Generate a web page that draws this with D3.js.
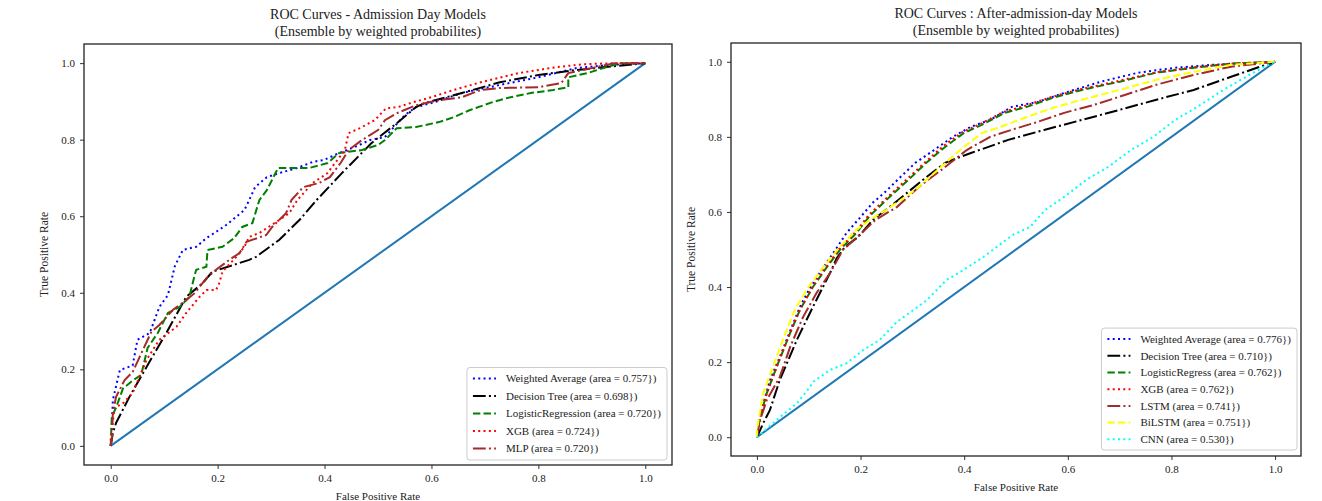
<!DOCTYPE html>
<html>
<head>
<meta charset="utf-8">
<script src="https://cdn.jsdelivr.net/npm/d3@7"></script>
<style>
  body { margin: 0; background: #fff; }
  svg { font-family: "Liberation Serif", "DejaVu Serif", serif; }
</style>
</head>
<body>
<svg id="chart" width="1322" height="501"></svg>
<script>
// ROC points [fpr, tpr]

// Admission day models
var admWeighted = [[0,0],[0.002,0.05],[0.004,0.12],[0.017,0.198],[0.041,0.21],[0.05,0.277],[0.073,0.295],[0.091,0.363],[0.107,0.394],[0.12,0.47],[0.135,0.512],[0.16,0.52],[0.179,0.543],[0.197,0.559],[0.216,0.577],[0.25,0.616],[0.259,0.642],[0.27,0.676],[0.292,0.702],[0.321,0.715],[0.349,0.726],[0.378,0.742],[0.399,0.747],[0.427,0.765],[0.457,0.781],[0.485,0.799],[0.513,0.807],[0.528,0.83],[0.55,0.864],[0.571,0.885],[0.606,0.898],[0.657,0.922],[0.728,0.943],[0.8,0.963],[0.871,0.987],[0.928,0.995],[1,1]];
var admTree = [[0,0],[0.004,0.034],[0.01,0.06],[0.035,0.128],[0.067,0.206],[0.104,0.295],[0.141,0.389],[0.172,0.425],[0.19,0.455],[0.228,0.472],[0.259,0.486],[0.272,0.494],[0.315,0.538],[0.353,0.59],[0.385,0.642],[0.432,0.712],[0.487,0.79],[0.535,0.843],[0.571,0.885],[0.586,0.895],[0.657,0.922],[0.728,0.95],[0.8,0.969],[0.871,0.982],[1,1]];
var admLogReg = [[0,0],[0.002,0.076],[0.01,0.10],[0.023,0.15],[0.042,0.172],[0.057,0.185],[0.069,0.256],[0.088,0.295],[0.107,0.347],[0.129,0.363],[0.147,0.389],[0.157,0.446],[0.16,0.46],[0.179,0.468],[0.181,0.512],[0.209,0.52],[0.231,0.543],[0.246,0.572],[0.265,0.582],[0.278,0.642],[0.292,0.668],[0.313,0.726],[0.371,0.726],[0.406,0.739],[0.427,0.765],[0.442,0.768],[0.47,0.773],[0.5,0.786],[0.513,0.799],[0.535,0.83],[0.571,0.833],[0.614,0.846],[0.642,0.859],[0.671,0.877],[0.714,0.898],[0.742,0.909],[0.786,0.922],[0.828,0.93],[0.856,0.937],[0.856,0.963],[0.892,0.974],[0.928,0.99],[0.957,1.0],[1,1]];
var admXgb = [[0,0],[0,0.016],[0.007,0.10],[0.022,0.11],[0.041,0.138],[0.067,0.225],[0.091,0.277],[0.123,0.311],[0.141,0.347],[0.166,0.389],[0.179,0.407],[0.197,0.407],[0.203,0.425],[0.209,0.455],[0.235,0.494],[0.25,0.52],[0.259,0.546],[0.278,0.556],[0.315,0.59],[0.334,0.608],[0.349,0.642],[0.378,0.687],[0.405,0.712],[0.438,0.773],[0.445,0.817],[0.466,0.83],[0.494,0.851],[0.515,0.882],[0.537,0.885],[0.566,0.898],[0.6,0.911],[0.642,0.93],[0.692,0.95],[0.763,0.974],[0.836,0.99],[0.885,0.997],[0.942,1.0],[1,1]];
var admMlp = [[0,0],[0.002,0.016],[0.004,0.086],[0.01,0.128],[0.026,0.172],[0.041,0.193],[0.054,0.232],[0.076,0.298],[0.091,0.316],[0.116,0.355],[0.134,0.373],[0.157,0.399],[0.179,0.438],[0.197,0.46],[0.222,0.486],[0.241,0.504],[0.254,0.533],[0.291,0.551],[0.302,0.572],[0.328,0.608],[0.338,0.642],[0.36,0.676],[0.39,0.687],[0.41,0.702],[0.43,0.739],[0.445,0.773],[0.47,0.799],[0.5,0.825],[0.513,0.851],[0.535,0.869],[0.571,0.89],[0.614,0.903],[0.657,0.911],[0.692,0.93],[0.728,0.935],[0.8,0.937],[0.843,0.948],[0.856,0.974],[0.9,0.987],[0.942,1.0],[1,1]];

// After admission day models
var aftWeighted = [[0,0],[0.009,0.072],[0.025,0.152],[0.044,0.213],[0.067,0.293],[0.083,0.347],[0.102,0.397],[0.122,0.44],[0.147,0.49],[0.173,0.544],[0.199,0.585],[0.224,0.625],[0.249,0.655],[0.277,0.693],[0.306,0.731],[0.342,0.765],[0.378,0.8],[0.413,0.827],[0.45,0.845],[0.492,0.88],[0.542,0.893],[0.593,0.917],[0.664,0.947],[0.736,0.971],[0.807,0.984],[0.878,0.992],[0.95,0.997],[1,1]];
var aftTree = [[0,0],[0.012,0.037],[0.025,0.072],[0.044,0.152],[0.077,0.259],[0.108,0.347],[0.141,0.437],[0.154,0.477],[0.17,0.507],[0.195,0.533],[0.224,0.579],[0.256,0.613],[0.32,0.685],[0.363,0.731],[0.413,0.757],[0.485,0.792],[0.556,0.819],[0.627,0.845],[0.7,0.872],[0.771,0.899],[0.843,0.925],[0.915,0.96],[0.965,0.984],[1,1]];
var aftLogReg = [[0,0],[0.006,0.053],[0.019,0.117],[0.038,0.187],[0.064,0.277],[0.083,0.339],[0.108,0.4],[0.135,0.453],[0.16,0.499],[0.192,0.544],[0.218,0.59],[0.256,0.64],[0.292,0.685],[0.327,0.731],[0.363,0.773],[0.399,0.81],[0.434,0.832],[0.478,0.864],[0.521,0.88],[0.571,0.904],[0.627,0.925],[0.7,0.947],[0.771,0.971],[0.843,0.984],[0.915,0.995],[1,1]];
var aftXgb = [[0,0],[0.005,0.05],[0.018,0.112],[0.037,0.183],[0.062,0.272],[0.082,0.336],[0.106,0.398],[0.133,0.452],[0.158,0.5],[0.19,0.546],[0.216,0.592],[0.254,0.642],[0.29,0.688],[0.325,0.733],[0.36,0.776],[0.396,0.812],[0.432,0.835],[0.475,0.866],[0.518,0.883],[0.568,0.906],[0.625,0.927],[0.698,0.949],[0.77,0.972],[0.842,0.985],[0.915,0.995],[1,1]];
var aftLstm = [[0,0],[0.006,0.045],[0.019,0.099],[0.044,0.16],[0.064,0.24],[0.089,0.32],[0.115,0.384],[0.141,0.437],[0.166,0.499],[0.195,0.535],[0.229,0.579],[0.27,0.613],[0.313,0.667],[0.356,0.712],[0.405,0.765],[0.45,0.8],[0.492,0.819],[0.542,0.84],[0.593,0.864],[0.65,0.885],[0.7,0.907],[0.771,0.939],[0.843,0.965],[0.915,0.987],[1,1]];
var aftBilstm = [[0,0],[0,0.019],[0.012,0.117],[0.031,0.187],[0.05,0.259],[0.073,0.339],[0.098,0.397],[0.127,0.451],[0.16,0.507],[0.192,0.552],[0.218,0.579],[0.249,0.605],[0.306,0.659],[0.349,0.712],[0.392,0.765],[0.434,0.81],[0.471,0.827],[0.521,0.853],[0.571,0.877],[0.627,0.899],[0.7,0.925],[0.771,0.952],[0.843,0.973],[0.915,0.992],[1,1]];
var aftCnn = [[0,0],[0.044,0.053],[0.077,0.09],[0.102,0.133],[0.108,0.147],[0.141,0.179],[0.173,0.197],[0.205,0.232],[0.237,0.259],[0.27,0.307],[0.302,0.339],[0.328,0.365],[0.347,0.392],[0.366,0.419],[0.398,0.445],[0.437,0.48],[0.463,0.507],[0.494,0.539],[0.527,0.56],[0.556,0.605],[0.593,0.64],[0.635,0.685],[0.678,0.72],[0.722,0.765],[0.765,0.8],[0.807,0.845],[0.85,0.88],[0.9,0.925],[0.944,0.96],[0.979,0.987],[1,1]];

var chanceLine = [[0,0],[1,1]];

var admLabels = ["Weighted Average (area = 0.757})", "Decision Tree (area = 0.698})",
  "LogisticRegression (area = 0.720})", "XGB (area = 0.724})", "MLP (area = 0.720})"];
var aftLabels = ["Weighted Average (area = 0.776})", "Decision Tree (area = 0.710})",
  "LogisticRegress (area = 0.762})", "XGB (area = 0.762})", "LSTM (area = 0.741})",
  "BiLSTM (area = 0.751})", "CNN (area = 0.530})"];

var tickValues = [0, 0.2, 0.4, 0.6, 0.8, 1.0];

// matplotlib-like line styles
var styles = {
  blue:   { color: "#0000ff", dash: "2,3.3" },
  black:  { color: "#000000", dash: "12.8,3.2,2,3.2" },
  green:  { color: "#008000", dash: "7.4,3.2" },
  red:    { color: "#ff0000", dash: "2,3.3" },
  brown:  { color: "#a52a2a", dash: "12.8,3.2,2,3.2" },
  yellow: { color: "#ffff00", dash: "7.4,3.2" },
  cyan:   { color: "#00ffff", dash: "2,3.3" }
};

var panels = [
  {
    title: ["ROC Curves - Admission Day Models", "(Ensemble by weighted probabilites)"],
    box: { left: 84, right: 672, top: 44, bottom: 465 },
    titleY: 18.5,
    legend: { right: 667, bottom: 460, rowH: 17.5 },
    series: [admWeighted, admTree, admLogReg, admXgb, admMlp],
    styleKeys: ["blue", "black", "green", "red", "brown"],
    labels: admLabels
  },
  {
    title: ["ROC Curves : After-admission-day Models", "(Ensemble by weighted probabilites)"],
    box: { left: 731, right: 1301, top: 43, bottom: 456 },
    titleY: 17.5,
    legend: { right: 1297, bottom: 450, rowH: 16.7 },
    series: [aftWeighted, aftTree, aftLogReg, aftXgb, aftLstm, aftBilstm, aftCnn],
    styleKeys: ["blue", "black", "green", "red", "brown", "yellow", "cyan"],
    labels: aftLabels
  }
];

var svg = d3.select("#chart");

function drawPanel(p) {
  var b = p.box;
  var x = d3.scaleLinear().domain([-0.05, 1.05]).range([b.left, b.right]);
  var y = d3.scaleLinear().domain([-0.05, 1.05]).range([b.bottom, b.top]);
  var g = svg.append("g");

  var line = d3.line()
    .x(function(d) { return x(d[0]); })
    .y(function(d) { return y(d[1]); });

  // chance diagonal
  g.append("path").datum(chanceLine)
    .attr("d", line)
    .attr("fill", "none")
    .attr("stroke", "#1f77b4")
    .attr("stroke-width", 2);

  p.series.forEach(function(s, i) {
    var st = styles[p.styleKeys[i]];
    g.append("path").datum(s)
      .attr("d", line)
      .attr("fill", "none")
      .attr("stroke", st.color)
      .attr("stroke-width", 2)
      .attr("stroke-dasharray", st.dash);
  });

  // axes
  var xAxis = g.append("g")
    .attr("transform", "translate(0," + b.bottom + ")")
    .call(d3.axisBottom(x).tickValues(tickValues).tickFormat(d3.format(".1f")).tickSize(4).tickPadding(5));
  var yAxis = g.append("g")
    .attr("transform", "translate(" + b.left + ",0)")
    .call(d3.axisLeft(y).tickValues(tickValues).tickFormat(d3.format(".1f")).tickSize(4).tickPadding(5));
  [xAxis, yAxis].forEach(function(a) {
    a.select(".domain").remove();
    a.selectAll("line").attr("stroke", "#333");
    a.selectAll("text")
      .attr("font-family", "Liberation Serif")
      .attr("font-size", 11)
      .attr("fill", "#222");
  });

  // frame
  g.append("rect")
    .attr("x", b.left)
    .attr("y", b.top)
    .attr("width", b.right - b.left)
    .attr("height", b.bottom - b.top)
    .attr("fill", "none")
    .attr("stroke", "#222")
    .attr("stroke-width", 1.3);

  // titles and axis labels
  var cx = (b.left + b.right) / 2;
  p.title.forEach(function(t, i) {
    g.append("text")
      .attr("x", cx)
      .attr("y", p.titleY + i * 17)
      .attr("text-anchor", "middle")
      .attr("font-size", 14)
      .attr("fill", "#222")
      .text(t);
  });

  g.append("text")
    .attr("x", cx)
    .attr("y", b.bottom + 35)
    .attr("text-anchor", "middle")
    .attr("font-size", 11)
    .attr("fill", "#222")
    .text("False Positive Rate");

  g.append("text")
    .attr("transform", "translate(" + (b.left - 36) + "," + ((b.top + b.bottom) / 2) + ") rotate(-90)")
    .attr("text-anchor", "middle")
    .attr("font-size", 11.5)
    .attr("fill", "#222")
    .text("True Positive Rate");

  // legend
  var L = p.legend;
  var n = p.labels.length;
  var lg = g.append("g");
  var bg = lg.append("rect");
  var texts = p.labels.map(function(lab, i) {
    return lg.append("text")
      .attr("font-size", 11)
      .attr("fill", "#222")
      .attr("dy", "0.35em")
      .text(lab);
  });
  var maxW = d3.max(texts, function(t) { return t.node().getComputedTextLength(); });
  var w = 39 + maxW + 6;
  var h = n * L.rowH + 5;
  var lx = L.right - w;
  var ly = L.bottom - h;
  bg.attr("x", lx)
    .attr("y", ly)
    .attr("width", w)
    .attr("height", h)
    .attr("rx", 3)
    .attr("fill", "#fff")
    .attr("fill-opacity", 0.85)
    .attr("stroke", "#cccccc");
  texts.forEach(function(t, i) {
    var ry = ly + 11 + i * L.rowH;
    var st = styles[p.styleKeys[i]];
    t.attr("x", lx + 39).attr("y", ry);
    lg.append("line")
      .attr("x1", lx + 6)
      .attr("x2", lx + 29)
      .attr("y1", ry)
      .attr("y2", ry)
      .attr("stroke", st.color)
      .attr("stroke-width", 2)
      .attr("stroke-dasharray", st.dash);
  });
}

panels.forEach(drawPanel);
</script>
</body>
</html>
